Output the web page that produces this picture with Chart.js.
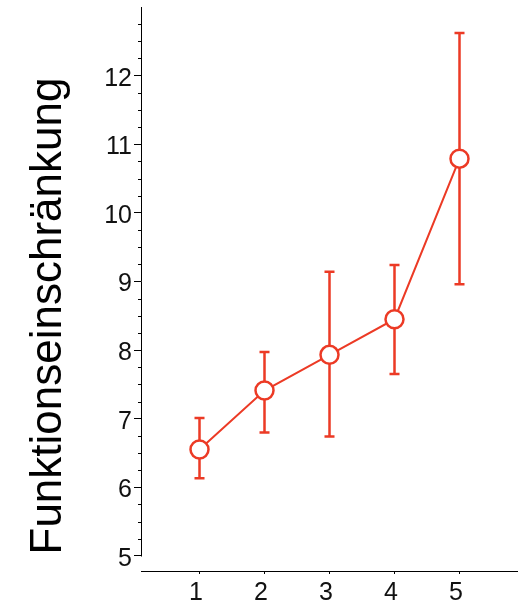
<!DOCTYPE html>
<html><head><meta charset="utf-8">
<script src="https://cdn.jsdelivr.net/npm/chart.js@4/dist/chart.umd.min.js"></script>
<style>html,body{margin:0;padding:0;background:#fff}canvas{display:block}</style>
</head><body>
<canvas id="c" width="518" height="608"></canvas>
<script>
const categories = [1, 2, 3, 4, 5];
const means = [6.55, 7.41, 7.93, 8.45, 10.79];
const upper = [7.01, 7.97, 9.14, 9.24, 12.62];
const lower = [6.13, 6.80, 6.74, 7.65, 8.96];
const yTickLabels = [5, 6, 7, 8, 9, 10, 11, 12];
const xTickLabels = [1, 2, 3, 4, 5];
const yTitle = 'Funktionseinschränkung';
const RED = '#ec3a25';
const FONT = "'Liberation Sans', Arial, Helvetica, sans-serif";

const errorBars = {
  id: 'errorBars',
  beforeDatasetsDraw(chart) {
    const {ctx, scales: {x, y}} = chart;
    ctx.save();
    ctx.strokeStyle = RED; ctx.lineWidth = 2.5; ctx.lineCap = 'butt';
    categories.forEach((c, i) => {
      const px = x.getPixelForValue(c);
      const pt = y.getPixelForValue(upper[i]);
      const pb = y.getPixelForValue(lower[i]);
      ctx.beginPath();
      ctx.moveTo(px, pt); ctx.lineTo(px, pb);
      ctx.moveTo(px - 5, pt); ctx.lineTo(px + 5, pt);
      ctx.moveTo(px - 5, pb); ctx.lineTo(px + 5, pb);
      ctx.stroke();
    });
    ctx.restore();
  }
};

const yAxisDecor = {
  id: 'yAxisDecor',
  afterDraw(chart) {
    const {ctx, scales: {y}} = chart;
    const xl = Math.round(y.right) + 0.5;
    ctx.save();
    ctx.strokeStyle = '#000'; ctx.lineWidth = 1;
    ctx.beginPath();
    ctx.moveTo(xl, y.getPixelForValue(13));
    ctx.lineTo(xl, Math.round(y.getPixelForValue(5)) + 0.5);
    for (let v = 5.25; v < 13; v += 0.25) {
      if (Math.abs(v - Math.round(v)) < 1e-6) continue;
      const py = Math.round(y.getPixelForValue(v)) + 0.5;
      ctx.moveTo(xl - 3.5, py); ctx.lineTo(xl, py);
    }
    ctx.stroke();
    // axis title
    ctx.translate(61, 316);
    ctx.rotate(-Math.PI / 2);
    ctx.fillStyle = '#000';
    ctx.font = '44px ' + FONT;
    ctx.textAlign = 'center';
    ctx.textBaseline = 'alphabetic';
    ctx.fillText(yTitle, 0, 0);
    ctx.restore();
  }
};

new Chart(document.getElementById('c'), {
  type: 'line',
  data: {
    datasets: [{
      data: categories.map((c, i) => ({x: c, y: means[i]})),
      borderColor: RED,
      borderWidth: 2,
      pointRadius: 9,
      pointBorderWidth: 2.5,
      pointBackgroundColor: '#fff',
      pointBorderColor: RED,
      tension: 0,
      clip: false
    }]
  },
  options: {
    responsive: false,
    devicePixelRatio: 1,
    animation: false,
    layout: {autoPadding: false, padding: {top: 7, left: 0, right: 0, bottom: 0}},
    plugins: {legend: {display: false}, tooltip: {enabled: false}},
    scales: {
      x: {
        type: 'linear', position: 'bottom', min: 0.1, max: 5.9,
        afterFit(s) { s.height = 37; s.paddingLeft = 0; s.paddingRight = 0; s.paddingTop = 0; s.paddingBottom = 0; },
        afterBuildTicks(s) { s.ticks = xTickLabels.map(v => ({value: v})); },
        grid: {display: true, drawOnChartArea: false, drawTicks: true, tickLength: 3, color: '#000', lineWidth: 1},
        border: {display: true, color: '#000', width: 1},
        ticks: {font: {family: FONT, size: 25}, color: '#111', padding: 4, labelOffset: -3.5, maxRotation: 0, autoSkip: false}
      },
      y: {
        type: 'linear', position: 'left', min: 4.78, max: 13,
        afterFit(s) { s.width = 141; s.paddingLeft = 0; s.paddingRight = 0; s.paddingTop = 0; s.paddingBottom = 0; },
        afterBuildTicks(s) { s.ticks = yTickLabels.map(v => ({value: v})); },
        grid: {display: true, drawOnChartArea: false, drawTicks: true, tickLength: 7, color: '#000', lineWidth: 1},
        border: {display: false},
        ticks: {font: {family: FONT, size: 25}, color: '#111', padding: 2, labelOffset: 3, autoSkip: false}
      }
    }
  },
  plugins: [errorBars, yAxisDecor]
});
</script>
</body></html>
